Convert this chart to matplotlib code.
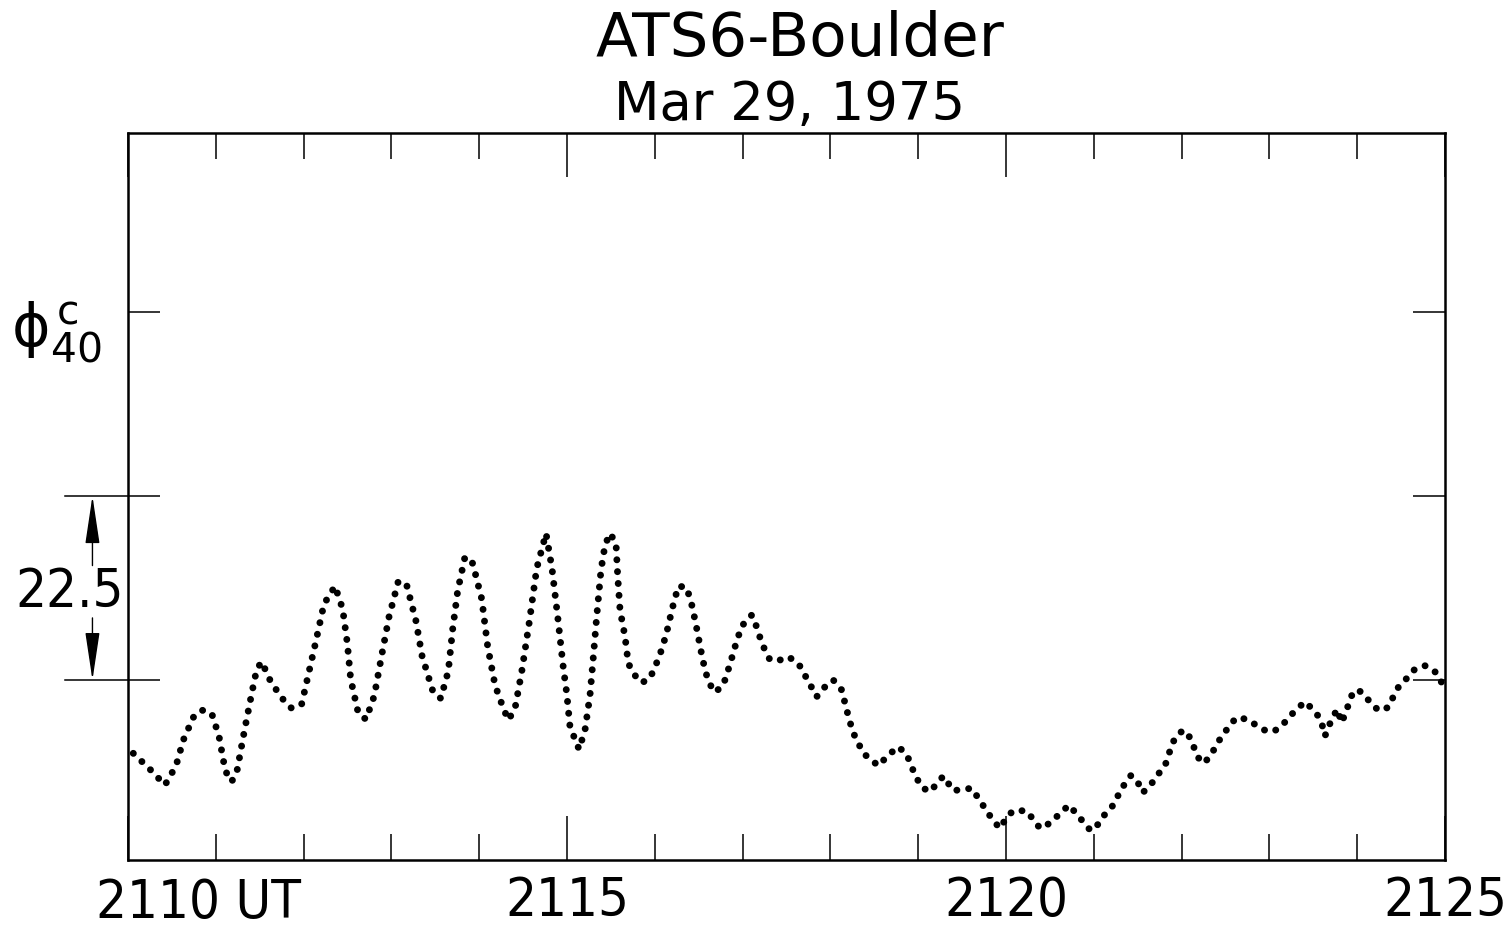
import matplotlib
matplotlib.use('Agg')
import matplotlib.pyplot as plt
from matplotlib import font_manager
from matplotlib.patches import ArrowStyle
from matplotlib.transforms import blended_transform_factory

'''ATS6-Boulder phase record, Mar 29 1975'''
# minutes after 2110 UT
t_min = [0.060, 0.251, 0.421, 0.547, 0.630, 0.744, 0.839, 0.953, 1.036, 1.108,
         1.181, 1.245, 1.325, 1.409, 1.466, 1.523, 1.629, 1.780, 1.864, 1.978,
         2.042, 2.138, 2.232, 2.358, 2.445, 2.498, 2.536, 2.623, 2.711, 2.805,
         2.890, 2.973, 3.079, 3.174, 3.280, 3.349, 3.477, 3.562, 3.648, 3.698,
         3.755, 3.838, 3.926, 4.029, 4.097, 4.180, 4.275, 4.332, 4.408, 4.484,
         4.571, 4.655, 4.761, 4.829, 4.894, 4.958, 4.997, 5.034, 5.137, 5.205,
         5.262, 5.300, 5.338, 5.387, 5.433, 5.490, 5.558, 5.578, 5.604, 5.661,
         5.698, 5.763, 5.851, 5.945, 6.051, 6.128, 6.204, 6.268, 6.363, 6.427,
         6.477, 6.546, 6.609, 6.686, 6.780, 6.856, 6.925, 6.990, 7.104, 7.167,
         7.218, 7.312, 7.426, 7.521, 7.635, 7.730, 7.844, 7.919, 8.033, 8.129,
         8.186, 8.254, 8.375, 8.546, 8.660, 8.774, 8.869, 8.964, 9.040, 9.134,
         9.286, 9.400, 9.495, 9.610, 9.761, 9.849, 9.932, 10.000, 10.080, 10.228,
         10.311, 10.387, 10.509, 10.615, 10.718, 10.824, 10.965, 11.052, 11.128, 11.222,
         11.279, 11.344, 11.424, 11.507, 11.557, 11.652, 11.735, 11.811, 11.849, 11.888,
         11.933, 12.020, 12.104, 12.145, 12.179, 12.255, 12.332, 12.392, 12.457, 12.540,
         12.620, 12.741, 12.847, 12.942, 13.044, 13.140, 13.227, 13.311, 13.405, 13.493,
         13.568, 13.607, 13.633, 13.671, 13.721, 13.773, 13.824, 13.899, 13.926, 14.001,
         14.089, 14.157, 14.252, 14.354, 14.411, 14.476, 14.576, 14.658, 14.772, 14.878,
         14.951, 14.981]
# phase (degrees), relative to the lower scale-bar line
phase = [-8.96, -10.92, -12.84, -10.48, -7.34, -4.56, -3.67, -4.07, -6.85, -11.09,
         -12.44, -10.92, -6.24, -1.63, 1.31, 2.24, -0.28, -2.57, -3.46, -2.93,
         0.09, 4.65, 9.29, 11.49, 8.68, 4.49, 0.12, -4.07, -4.81, -1.92,
         3.06, 7.74, 12.11, 11.62, 7.21, 2.97, -1.55, -2.24, 1.10, 6.24,
         10.92, 15.08, 14.27, 9.90, 4.07, -0.61, -3.46, -4.89, -3.46, 1.01,
         7.13, 13.66, 17.94, 13.66, 7.74, 1.50, -1.63, -5.71, -8.47, -6.11,
         -1.83, 2.85, 7.74, 13.45, 16.51, 17.94, 16.72, 12.63, 8.56, 5.29,
         2.04, 0.70, -0.33, 0.21, 2.85, 5.50, 8.96, 11.49, 11.34, 8.96,
         6.32, 2.45, -0.21, -1.50, -0.61, 1.92, 4.49, 6.60, 7.95, 6.32,
         4.49, 2.45, 2.45, 2.85, 2.04, 0.21, -2.04, -1.01, 0.00, -1.22,
         -3.67, -6.32, -8.96, -10.48, -9.17, -8.16, -9.09, -11.62, -13.12, -13.66,
         -11.74, -13.54, -13.37, -13.24, -15.69, -17.12, -18.13, -16.91, -15.98, -15.98,
         -17.03, -18.13, -17.45, -16.30, -15.29, -16.63, -18.43, -17.61, -16.39, -15.29,
         -14.06, -12.84, -11.65, -12.63, -13.78, -12.75, -11.49, -10.48, -9.26, -7.95,
         -6.93, -6.11, -7.13, -8.35, -9.38, -10.19, -9.17, -8.07, -6.85, -5.71,
         -4.61, -4.77, -5.50, -6.11, -6.32, -5.62, -4.49, -3.58, -2.65, -3.58,
         -4.56, -5.71, -6.85, -5.78, -4.56, -3.58, -5.22, -3.06, -2.04, -1.14,
         -1.83, -2.93, -3.75, -3.34, -2.04, -0.73, 0.33, 1.35, 1.75, 1.14,
         0.00, -1.01]

x_major = [0, 5, 10, 15]
x_labels = ['2110 UT', '2115', '2120', '2125']
y_ticks = [0, 22.5, 45]
scale_len = 22.5

# tall narrow lettering for the numbers
cond = font_manager.FontProperties(family='DejaVu Sans', stretch='condensed', size=39)

fig = plt.figure(figsize=(15.06, 9.32), dpi=100)
ax = fig.add_axes([0.0850, 0.0773, 0.8745, 0.7800])

ax.plot(t_min, phase, color='black', linewidth=5.0,
        linestyle=(0, (0.01, 1.7)), dash_capstyle='round')

ax.set_xlim(0, 15)
ax.set_ylim(-22.0, 66.9)

ax.set_xticks(x_major)
ax.set_xticks(range(0, 16), minor=True)
ax.set_xticklabels(['', x_labels[1], x_labels[2], x_labels[3]], fontproperties=cond)
ax.tick_params(axis='x', which='major', direction='in', top=True, bottom=True,
               length=32, width=1.1, pad=11)
ax.tick_params(axis='x', which='minor', direction='in', top=True, bottom=True,
               length=19, width=1.1)
ax.set_yticks(y_ticks)
ax.set_yticklabels([])
ax.tick_params(axis='y', direction='in', left=True, right=True, length=23, width=1.1)
for s in ax.spines.values():
    s.set_linewidth(1.8)

# first label sits to the right of its tick
ax.text(-0.37, -0.024, x_labels[0], transform=blended_transform_factory(ax.transData, ax.transAxes),
        ha='left', va='top', fontproperties=cond)

# scale bar on the left
tr = blended_transform_factory(ax.transAxes, ax.transData)
for yv in [0, scale_len]:
    ax.plot([-0.048, 0], [yv, yv], color='black', linewidth=1.1, transform=tr, clip_on=False)
head = ArrowStyle('-|>', head_length=30, head_width=4.5)
ax.annotate('', xy=(-0.027, scale_len), xytext=(-0.027, 14.0), xycoords=tr, textcoords=tr,
            arrowprops=dict(arrowstyle=head, color='black', lw=1.0, mutation_scale=1,
                            shrinkA=0, shrinkB=0))
ax.annotate('', xy=(-0.027, 0), xytext=(-0.027, 7.6), xycoords=tr, textcoords=tr,
            arrowprops=dict(arrowstyle=head, color='black', lw=1.0, mutation_scale=1,
                            shrinkA=0, shrinkB=0))
ax.text(-0.044, 10.8, '22.5', transform=tr, ha='center', va='center', fontproperties=cond)

# y label
fig.text(0.037, 0.643, r'$\mathregular{ϕ^{\,c}_{40}}$', ha='center', va='center', fontsize=42)

fig.text(0.531, 0.958, 'ATS6-Boulder', ha='center', va='center', fontsize=44)
fig.text(0.524, 0.887, 'Mar 29, 1975', ha='center', va='center', fontsize=38)

plt.savefig('out.png', dpi=100)
plt.close(fig)
